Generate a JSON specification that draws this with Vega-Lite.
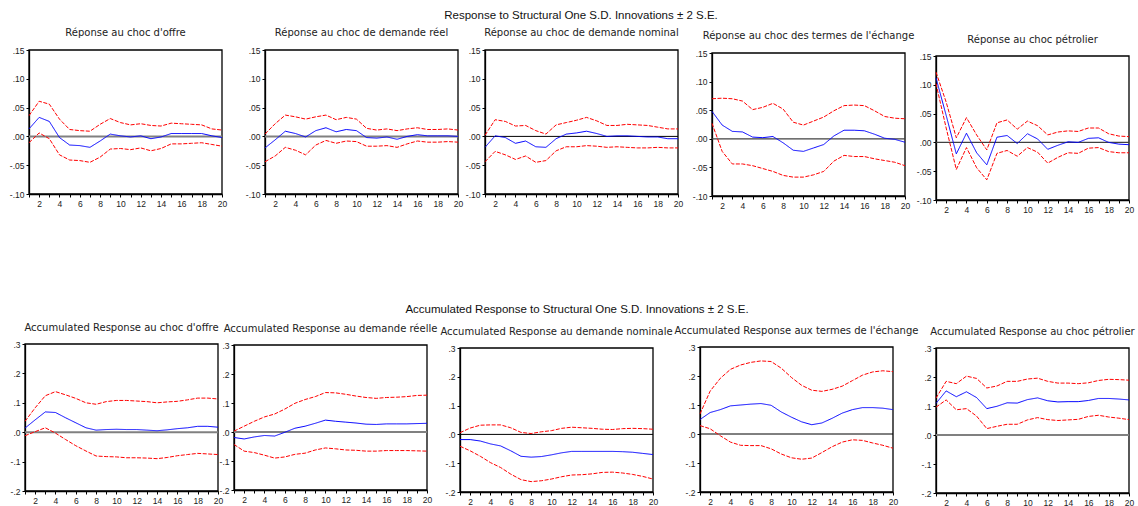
{
"$schema":"https://vega.github.io/schema/vega-lite/v6.json",
"autosize":{"type":"pad"},
"padding":{"left":4,"top":9,"right":4,"bottom":0},
"background":"#ffffff",
"datasets":{
"p1":[{"h":1,"m":0.013,"lo":-0.011,"hi":0.036},{"h":2,"m":0.033,"lo":0.006,"hi":0.061},{"h":3,"m":0.026,"lo":-0.004,"hi":0.056},{"h":4,"m":-0.002,"lo":-0.032,"hi":0.030},{"h":5,"m":-0.015,"lo":-0.041,"hi":0.012},{"h":6,"m":-0.016,"lo":-0.042,"hi":0.010},{"h":7,"m":-0.019,"lo":-0.045,"hi":0.009},{"h":8,"m":-0.008,"lo":-0.036,"hi":0.021},{"h":9,"m":0.004,"lo":-0.022,"hi":0.031},{"h":10,"m":0.001,"lo":-0.021,"hi":0.024},{"h":11,"m":-0.001,"lo":-0.023,"hi":0.020},{"h":12,"m":0.001,"lo":-0.020,"hi":0.022},{"h":13,"m":-0.004,"lo":-0.025,"hi":0.019},{"h":14,"m":-0.001,"lo":-0.021,"hi":0.018},{"h":15,"m":0.005,"lo":-0.013,"hi":0.023},{"h":16,"m":0.005,"lo":-0.013,"hi":0.022},{"h":17,"m":0.005,"lo":-0.012,"hi":0.021},{"h":18,"m":0.005,"lo":-0.011,"hi":0.020},{"h":19,"m":0.001,"lo":-0.014,"hi":0.013},{"h":20,"m":-0.002,"lo":-0.017,"hi":0.011}],
"p2":[{"h":1,"m":-0.020,"lo":-0.044,"hi":0.004},{"h":2,"m":-0.006,"lo":-0.034,"hi":0.022},{"h":3,"m":0.009,"lo":-0.019,"hi":0.037},{"h":4,"m":0.005,"lo":-0.024,"hi":0.034},{"h":5,"m":-0.001,"lo":-0.032,"hi":0.030},{"h":6,"m":0.010,"lo":-0.015,"hi":0.034},{"h":7,"m":0.015,"lo":-0.007,"hi":0.037},{"h":8,"m":0.008,"lo":-0.012,"hi":0.029},{"h":9,"m":0.012,"lo":-0.008,"hi":0.033},{"h":10,"m":0.010,"lo":-0.009,"hi":0.030},{"h":11,"m":-0.002,"lo":-0.017,"hi":0.014},{"h":12,"m":-0.003,"lo":-0.017,"hi":0.011},{"h":13,"m":-0.001,"lo":-0.016,"hi":0.013},{"h":14,"m":-0.005,"lo":-0.019,"hi":0.010},{"h":15,"m":0.000,"lo":-0.013,"hi":0.013},{"h":16,"m":0.003,"lo":-0.008,"hi":0.015},{"h":17,"m":0.001,"lo":-0.010,"hi":0.012},{"h":18,"m":0.001,"lo":-0.010,"hi":0.012},{"h":19,"m":0.001,"lo":-0.009,"hi":0.013},{"h":20,"m":0.000,"lo":-0.010,"hi":0.011}],
"p3":[{"h":1,"m":-0.019,"lo":-0.044,"hi":0.002},{"h":2,"m":0.001,"lo":-0.026,"hi":0.029},{"h":3,"m":-0.002,"lo":-0.032,"hi":0.026},{"h":4,"m":-0.012,"lo":-0.040,"hi":0.018},{"h":5,"m":-0.008,"lo":-0.034,"hi":0.019},{"h":6,"m":-0.018,"lo":-0.045,"hi":0.010},{"h":7,"m":-0.019,"lo":-0.042,"hi":0.004},{"h":8,"m":-0.004,"lo":-0.025,"hi":0.020},{"h":9,"m":0.004,"lo":-0.018,"hi":0.024},{"h":10,"m":0.006,"lo":-0.018,"hi":0.028},{"h":11,"m":0.009,"lo":-0.016,"hi":0.033},{"h":12,"m":0.005,"lo":-0.017,"hi":0.027},{"h":13,"m":0.000,"lo":-0.019,"hi":0.019},{"h":14,"m":0.001,"lo":-0.018,"hi":0.019},{"h":15,"m":0.001,"lo":-0.019,"hi":0.021},{"h":16,"m":0.000,"lo":-0.020,"hi":0.020},{"h":17,"m":-0.001,"lo":-0.020,"hi":0.019},{"h":18,"m":-0.001,"lo":-0.019,"hi":0.016},{"h":19,"m":-0.004,"lo":-0.020,"hi":0.013},{"h":20,"m":-0.004,"lo":-0.020,"hi":0.013}],
"p4":[{"h":1,"m":0.048,"lo":0.027,"hi":0.070},{"h":2,"m":0.024,"lo":-0.022,"hi":0.071},{"h":3,"m":0.013,"lo":-0.044,"hi":0.070},{"h":4,"m":0.012,"lo":-0.044,"hi":0.066},{"h":5,"m":0.003,"lo":-0.047,"hi":0.051},{"h":6,"m":0.002,"lo":-0.052,"hi":0.055},{"h":7,"m":0.004,"lo":-0.057,"hi":0.062},{"h":8,"m":-0.007,"lo":-0.064,"hi":0.052},{"h":9,"m":-0.020,"lo":-0.067,"hi":0.029},{"h":10,"m":-0.022,"lo":-0.067,"hi":0.024},{"h":11,"m":-0.016,"lo":-0.063,"hi":0.031},{"h":12,"m":-0.010,"lo":-0.057,"hi":0.038},{"h":13,"m":0.005,"lo":-0.039,"hi":0.049},{"h":14,"m":0.015,"lo":-0.029,"hi":0.058},{"h":15,"m":0.015,"lo":-0.031,"hi":0.059},{"h":16,"m":0.014,"lo":-0.031,"hi":0.058},{"h":17,"m":0.008,"lo":-0.035,"hi":0.049},{"h":18,"m":0.001,"lo":-0.038,"hi":0.039},{"h":19,"m":-0.001,"lo":-0.041,"hi":0.036},{"h":20,"m":-0.006,"lo":-0.047,"hi":0.035}],
"p5":[{"h":1,"m":0.112,"lo":0.102,"hi":0.122},{"h":2,"m":0.047,"lo":0.025,"hi":0.070},{"h":3,"m":-0.020,"lo":-0.047,"hi":0.008},{"h":4,"m":0.016,"lo":-0.009,"hi":0.043},{"h":5,"m":-0.018,"lo":-0.044,"hi":0.013},{"h":6,"m":-0.039,"lo":-0.065,"hi":-0.013},{"h":7,"m":0.009,"lo":-0.019,"hi":0.034},{"h":8,"m":0.012,"lo":-0.014,"hi":0.039},{"h":9,"m":-0.002,"lo":-0.024,"hi":0.023},{"h":10,"m":0.015,"lo":-0.009,"hi":0.037},{"h":11,"m":0.006,"lo":-0.017,"hi":0.029},{"h":12,"m":-0.012,"lo":-0.036,"hi":0.013},{"h":13,"m":-0.005,"lo":-0.026,"hi":0.018},{"h":14,"m":0.001,"lo":-0.018,"hi":0.020},{"h":15,"m":0.000,"lo":-0.019,"hi":0.019},{"h":16,"m":0.007,"lo":-0.010,"hi":0.025},{"h":17,"m":0.008,"lo":-0.009,"hi":0.025},{"h":18,"m":0.000,"lo":-0.016,"hi":0.015},{"h":19,"m":-0.003,"lo":-0.018,"hi":0.011},{"h":20,"m":-0.004,"lo":-0.018,"hi":0.010}],
"p6":[{"h":1,"m":0.014,"lo":-0.012,"hi":0.037},{"h":2,"m":0.042,"lo":0.002,"hi":0.083},{"h":3,"m":0.069,"lo":0.015,"hi":0.124},{"h":4,"m":0.067,"lo":-0.003,"hi":0.138},{"h":5,"m":0.049,"lo":-0.025,"hi":0.127},{"h":6,"m":0.032,"lo":-0.046,"hi":0.115},{"h":7,"m":0.015,"lo":-0.064,"hi":0.100},{"h":8,"m":0.007,"lo":-0.081,"hi":0.095},{"h":9,"m":0.009,"lo":-0.083,"hi":0.104},{"h":10,"m":0.010,"lo":-0.084,"hi":0.108},{"h":11,"m":0.009,"lo":-0.087,"hi":0.108},{"h":12,"m":0.009,"lo":-0.087,"hi":0.106},{"h":13,"m":0.007,"lo":-0.088,"hi":0.104},{"h":14,"m":0.005,"lo":-0.090,"hi":0.100},{"h":15,"m":0.008,"lo":-0.086,"hi":0.103},{"h":16,"m":0.012,"lo":-0.080,"hi":0.105},{"h":17,"m":0.015,"lo":-0.076,"hi":0.110},{"h":18,"m":0.020,"lo":-0.072,"hi":0.116},{"h":19,"m":0.020,"lo":-0.074,"hi":0.116},{"h":20,"m":0.017,"lo":-0.076,"hi":0.113}],
"p7":[{"h":1,"m":-0.019,"lo":-0.043,"hi":0.003},{"h":2,"m":-0.024,"lo":-0.066,"hi":0.020},{"h":3,"m":-0.017,"lo":-0.071,"hi":0.037},{"h":4,"m":-0.012,"lo":-0.080,"hi":0.052},{"h":5,"m":-0.014,"lo":-0.090,"hi":0.062},{"h":6,"m":-0.001,"lo":-0.086,"hi":0.079},{"h":7,"m":0.013,"lo":-0.077,"hi":0.099},{"h":8,"m":0.020,"lo":-0.073,"hi":0.112},{"h":9,"m":0.030,"lo":-0.062,"hi":0.122},{"h":10,"m":0.041,"lo":-0.055,"hi":0.136},{"h":11,"m":0.037,"lo":-0.058,"hi":0.135},{"h":12,"m":0.034,"lo":-0.062,"hi":0.130},{"h":13,"m":0.031,"lo":-0.063,"hi":0.124},{"h":14,"m":0.027,"lo":-0.066,"hi":0.119},{"h":15,"m":0.026,"lo":-0.066,"hi":0.116},{"h":16,"m":0.028,"lo":-0.064,"hi":0.119},{"h":17,"m":0.028,"lo":-0.064,"hi":0.120},{"h":18,"m":0.028,"lo":-0.064,"hi":0.122},{"h":19,"m":0.029,"lo":-0.065,"hi":0.126},{"h":20,"m":0.030,"lo":-0.066,"hi":0.127}],
"p8":[{"h":1,"m":-0.018,"lo":-0.041,"hi":0.006},{"h":2,"m":-0.018,"lo":-0.057,"hi":0.022},{"h":3,"m":-0.023,"lo":-0.076,"hi":0.032},{"h":4,"m":-0.033,"lo":-0.098,"hi":0.033},{"h":5,"m":-0.040,"lo":-0.115,"hi":0.033},{"h":6,"m":-0.057,"lo":-0.138,"hi":0.023},{"h":7,"m":-0.076,"lo":-0.157,"hi":0.007},{"h":8,"m":-0.079,"lo":-0.164,"hi":0.003},{"h":9,"m":-0.077,"lo":-0.161,"hi":0.009},{"h":10,"m":-0.071,"lo":-0.155,"hi":0.013},{"h":11,"m":-0.064,"lo":-0.147,"hi":0.021},{"h":12,"m":-0.059,"lo":-0.141,"hi":0.025},{"h":13,"m":-0.059,"lo":-0.140,"hi":0.023},{"h":14,"m":-0.059,"lo":-0.137,"hi":0.021},{"h":15,"m":-0.059,"lo":-0.132,"hi":0.018},{"h":16,"m":-0.059,"lo":-0.131,"hi":0.017},{"h":17,"m":-0.060,"lo":-0.134,"hi":0.020},{"h":18,"m":-0.062,"lo":-0.139,"hi":0.021},{"h":19,"m":-0.066,"lo":-0.146,"hi":0.020},{"h":20,"m":-0.070,"lo":-0.155,"hi":0.018}],
"p9":[{"h":1,"m":0.050,"lo":0.029,"hi":0.069},{"h":2,"m":0.074,"lo":0.018,"hi":0.148},{"h":3,"m":0.084,"lo":-0.006,"hi":0.192},{"h":4,"m":0.097,"lo":-0.028,"hi":0.223},{"h":5,"m":0.100,"lo":-0.039,"hi":0.238},{"h":6,"m":0.103,"lo":-0.040,"hi":0.247},{"h":7,"m":0.105,"lo":-0.040,"hi":0.252},{"h":8,"m":0.099,"lo":-0.051,"hi":0.250},{"h":9,"m":0.076,"lo":-0.069,"hi":0.227},{"h":10,"m":0.058,"lo":-0.082,"hi":0.195},{"h":11,"m":0.042,"lo":-0.087,"hi":0.168},{"h":12,"m":0.032,"lo":-0.083,"hi":0.151},{"h":13,"m":0.038,"lo":-0.064,"hi":0.147},{"h":14,"m":0.054,"lo":-0.044,"hi":0.154},{"h":15,"m":0.072,"lo":-0.028,"hi":0.165},{"h":16,"m":0.084,"lo":-0.020,"hi":0.184},{"h":17,"m":0.091,"lo":-0.022,"hi":0.203},{"h":18,"m":0.091,"lo":-0.031,"hi":0.214},{"h":19,"m":0.089,"lo":-0.039,"hi":0.218},{"h":20,"m":0.084,"lo":-0.049,"hi":0.215}],
"p10":[{"h":1,"m":0.109,"lo":0.096,"hi":0.127},{"h":2,"m":0.152,"lo":0.121,"hi":0.185},{"h":3,"m":0.132,"lo":0.087,"hi":0.177},{"h":4,"m":0.149,"lo":0.091,"hi":0.203},{"h":5,"m":0.129,"lo":0.065,"hi":0.195},{"h":6,"m":0.091,"lo":0.022,"hi":0.162},{"h":7,"m":0.099,"lo":0.030,"hi":0.169},{"h":8,"m":0.111,"lo":0.037,"hi":0.185},{"h":9,"m":0.110,"lo":0.037,"hi":0.185},{"h":10,"m":0.122,"lo":0.052,"hi":0.193},{"h":11,"m":0.128,"lo":0.060,"hi":0.196},{"h":12,"m":0.118,"lo":0.053,"hi":0.185},{"h":13,"m":0.114,"lo":0.050,"hi":0.179},{"h":14,"m":0.115,"lo":0.052,"hi":0.179},{"h":15,"m":0.115,"lo":0.054,"hi":0.177},{"h":16,"m":0.119,"lo":0.064,"hi":0.180},{"h":17,"m":0.126,"lo":0.068,"hi":0.188},{"h":18,"m":0.126,"lo":0.062,"hi":0.192},{"h":19,"m":0.124,"lo":0.058,"hi":0.191},{"h":20,"m":0.121,"lo":0.053,"hi":0.189}]
},
"bounds":"flush",
"spacing":294,
"vconcat":[
{"title":{"text":"Response to Structural One S.D. Innovations ± 2 S.E.","font":"Liberation Sans","fontSize":11.5,"color":"#111111","frame":"group","anchor":"middle","offset":7,"dx":577},
 "bounds":"flush","spacing":0,
 "hconcat":[
  {"width":218,"height":144,"data":{"name":"p1"},"title":{"text":"Réponse au choc d'offre","offset":8,"dx":12.5},
   "layer":[
    {"transform":[{"filter":"datum.h==1"}],"mark":{"type":"rect","filled":false,"stroke":"#000000","strokeWidth":1.3},"encoding":{"x":{"datum":1,"type":"quantitative","scale":{"domain":[1,20],"nice":false,"zero":false,"range":[25,218]},"axis":{"values":[1,2,3,4,5,6,7,8,9,10,11,12,13,14,15,16,17,18,19,20],"labelExpr":"datum.value % 2 == 0 ? datum.label : ''","labelFlush":false,"labelOverlap":false,"title":null}},"x2":{"datum":20},"y":{"datum":-0.1,"type":"quantitative","scale":{"domain":[-0.1,0.15],"nice":false,"zero":false,"range":[144,0]},"axis":{"values":[-0.1,-0.05,0,0.05,0.1,0.15],"labelExpr":"replace(replace(format(datum.value,'.2f'),'0.','.'),'\u2212','-')","title":null,"offset":-25}},"y2":{"datum":0.15}}},
    {"transform":[{"filter":"datum.h==1"}],"mark":{"type":"rule","color":"#808080","strokeWidth":2},"encoding":{"x":{"datum":1,"type":"quantitative","scale":{"domain":[1,20],"nice":false,"zero":false,"range":[25,218]},"axis":{"values":[1,2,3,4,5,6,7,8,9,10,11,12,13,14,15,16,17,18,19,20],"labelExpr":"datum.value % 2 == 0 ? datum.label : ''","labelFlush":false,"labelOverlap":false,"title":null}},"x2":{"datum":20},"y":{"datum":0,"type":"quantitative","scale":{"domain":[-0.1,0.15],"nice":false,"zero":false,"range":[144,0]},"axis":{"values":[-0.1,-0.05,0,0.05,0.1,0.15],"labelExpr":"replace(replace(format(datum.value,'.2f'),'0.','.'),'\u2212','-')","title":null,"offset":-25}}}},
    {"transform":[{"fold":["hi","lo","m"],"as":["s","v"]}],"mark":{"type":"line","strokeWidth":1},"encoding":{"x":{"field":"h","type":"quantitative","scale":{"domain":[1,20],"nice":false,"zero":false,"range":[25,218]},"axis":{"values":[1,2,3,4,5,6,7,8,9,10,11,12,13,14,15,16,17,18,19,20],"labelExpr":"datum.value % 2 == 0 ? datum.label : ''","labelFlush":false,"labelOverlap":false,"title":null}},"y":{"field":"v","type":"quantitative","scale":{"domain":[-0.1,0.15],"nice":false,"zero":false,"range":[144,0]},"axis":{"values":[-0.1,-0.05,0,0.05,0.1,0.15],"labelExpr":"replace(replace(format(datum.value,'.2f'),'0.','.'),'\u2212','-')","title":null,"offset":-25}},"color":{"field":"s","type":"nominal","scale":{"domain":["m","lo","hi"],"range":["#0000ff","#ff0000","#ff0000"]},"legend":null},"strokeDash":{"field":"s","type":"nominal","scale":{"domain":["m","lo","hi"],"range":[[1,0],[4,1.5],[4,1.5]]},"legend":null}}}
   ]},
  {"width":236,"height":144,"data":{"name":"p2"},"title":{"text":"Réponse au choc de demande réel","offset":8,"dx":21.5},
   "layer":[
    {"transform":[{"filter":"datum.h==1"}],"mark":{"type":"rect","filled":false,"stroke":"#000000","strokeWidth":1.3},"encoding":{"x":{"datum":1,"type":"quantitative","scale":{"domain":[1,20],"nice":false,"zero":false,"range":[43,236]},"axis":{"values":[1,2,3,4,5,6,7,8,9,10,11,12,13,14,15,16,17,18,19,20],"labelExpr":"datum.value % 2 == 0 ? datum.label : ''","labelFlush":false,"labelOverlap":false,"title":null}},"x2":{"datum":20},"y":{"datum":-0.1,"type":"quantitative","scale":{"domain":[-0.1,0.15],"nice":false,"zero":false,"range":[144,0]},"axis":{"values":[-0.1,-0.05,0,0.05,0.1,0.15],"labelExpr":"replace(replace(format(datum.value,'.2f'),'0.','.'),'\u2212','-')","title":null,"offset":-43}},"y2":{"datum":0.15}}},
    {"transform":[{"filter":"datum.h==1"}],"mark":{"type":"rule","color":"#808080","strokeWidth":2},"encoding":{"x":{"datum":1,"type":"quantitative","scale":{"domain":[1,20],"nice":false,"zero":false,"range":[43,236]},"axis":{"values":[1,2,3,4,5,6,7,8,9,10,11,12,13,14,15,16,17,18,19,20],"labelExpr":"datum.value % 2 == 0 ? datum.label : ''","labelFlush":false,"labelOverlap":false,"title":null}},"x2":{"datum":20},"y":{"datum":0,"type":"quantitative","scale":{"domain":[-0.1,0.15],"nice":false,"zero":false,"range":[144,0]},"axis":{"values":[-0.1,-0.05,0,0.05,0.1,0.15],"labelExpr":"replace(replace(format(datum.value,'.2f'),'0.','.'),'\u2212','-')","title":null,"offset":-43}}}},
    {"transform":[{"fold":["hi","lo","m"],"as":["s","v"]}],"mark":{"type":"line","strokeWidth":1},"encoding":{"x":{"field":"h","type":"quantitative","scale":{"domain":[1,20],"nice":false,"zero":false,"range":[43,236]},"axis":{"values":[1,2,3,4,5,6,7,8,9,10,11,12,13,14,15,16,17,18,19,20],"labelExpr":"datum.value % 2 == 0 ? datum.label : ''","labelFlush":false,"labelOverlap":false,"title":null}},"y":{"field":"v","type":"quantitative","scale":{"domain":[-0.1,0.15],"nice":false,"zero":false,"range":[144,0]},"axis":{"values":[-0.1,-0.05,0,0.05,0.1,0.15],"labelExpr":"replace(replace(format(datum.value,'.2f'),'0.','.'),'\u2212','-')","title":null,"offset":-43}},"color":{"field":"s","type":"nominal","scale":{"domain":["m","lo","hi"],"range":["#0000ff","#ff0000","#ff0000"]},"legend":null},"strokeDash":{"field":"s","type":"nominal","scale":{"domain":["m","lo","hi"],"range":[[1,0],[4,1.5],[4,1.5]]},"legend":null}}}
   ]},
  {"width":220,"height":144,"data":{"name":"p3"},"title":{"text":"Réponse au choc de demande nominal","offset":8,"dx":13.5},
   "layer":[
    {"transform":[{"filter":"datum.h==1"}],"mark":{"type":"rect","filled":false,"stroke":"#000000","strokeWidth":1.3},"encoding":{"x":{"datum":1,"type":"quantitative","scale":{"domain":[1,20],"nice":false,"zero":false,"range":[27,220]},"axis":{"values":[1,2,3,4,5,6,7,8,9,10,11,12,13,14,15,16,17,18,19,20],"labelExpr":"datum.value % 2 == 0 ? datum.label : ''","labelFlush":false,"labelOverlap":false,"title":null}},"x2":{"datum":20},"y":{"datum":-0.1,"type":"quantitative","scale":{"domain":[-0.1,0.15],"nice":false,"zero":false,"range":[144,0]},"axis":{"values":[-0.1,-0.05,0,0.05,0.1,0.15],"labelExpr":"replace(replace(format(datum.value,'.2f'),'0.','.'),'\u2212','-')","title":null,"offset":-27}},"y2":{"datum":0.15}}},
    {"transform":[{"filter":"datum.h==1"}],"mark":{"type":"rule","color":"#000000","strokeWidth":1},"encoding":{"x":{"datum":1,"type":"quantitative","scale":{"domain":[1,20],"nice":false,"zero":false,"range":[27,220]},"axis":{"values":[1,2,3,4,5,6,7,8,9,10,11,12,13,14,15,16,17,18,19,20],"labelExpr":"datum.value % 2 == 0 ? datum.label : ''","labelFlush":false,"labelOverlap":false,"title":null}},"x2":{"datum":20},"y":{"datum":0,"type":"quantitative","scale":{"domain":[-0.1,0.15],"nice":false,"zero":false,"range":[144,0]},"axis":{"values":[-0.1,-0.05,0,0.05,0.1,0.15],"labelExpr":"replace(replace(format(datum.value,'.2f'),'0.','.'),'\u2212','-')","title":null,"offset":-27}}}},
    {"transform":[{"fold":["hi","lo","m"],"as":["s","v"]}],"mark":{"type":"line","strokeWidth":1},"encoding":{"x":{"field":"h","type":"quantitative","scale":{"domain":[1,20],"nice":false,"zero":false,"range":[27,220]},"axis":{"values":[1,2,3,4,5,6,7,8,9,10,11,12,13,14,15,16,17,18,19,20],"labelExpr":"datum.value % 2 == 0 ? datum.label : ''","labelFlush":false,"labelOverlap":false,"title":null}},"y":{"field":"v","type":"quantitative","scale":{"domain":[-0.1,0.15],"nice":false,"zero":false,"range":[144,0]},"axis":{"values":[-0.1,-0.05,0,0.05,0.1,0.15],"labelExpr":"replace(replace(format(datum.value,'.2f'),'0.','.'),'\u2212','-')","title":null,"offset":-27}},"color":{"field":"s","type":"nominal","scale":{"domain":["m","lo","hi"],"range":["#0000ff","#ff0000","#ff0000"]},"legend":null},"strokeDash":{"field":"s","type":"nominal","scale":{"domain":["m","lo","hi"],"range":[[1,0],[4,1.5],[4,1.5]]},"legend":null}}}
   ]},
  {"width":227,"height":146,"data":{"name":"p4"},"title":{"text":"Réponse au choc des termes de l'échange","offset":8,"dx":17},
   "layer":[
    {"transform":[{"filter":"datum.h==1"}],"mark":{"type":"rect","filled":false,"stroke":"#000000","strokeWidth":1.3},"encoding":{"x":{"datum":1,"type":"quantitative","scale":{"domain":[1,20],"nice":false,"zero":false,"range":[34,227]},"axis":{"values":[1,2,3,4,5,6,7,8,9,10,11,12,13,14,15,16,17,18,19,20],"labelExpr":"datum.value % 2 == 0 ? datum.label : ''","labelFlush":false,"labelOverlap":false,"title":null}},"x2":{"datum":20},"y":{"datum":-0.1,"type":"quantitative","scale":{"domain":[-0.1,0.15],"nice":false,"zero":false,"range":[146,3]},"axis":{"values":[-0.1,-0.05,0,0.05,0.1,0.15],"labelExpr":"replace(replace(format(datum.value,'.2f'),'0.','.'),'\u2212','-')","title":null,"offset":-34}},"y2":{"datum":0.15}}},
    {"transform":[{"filter":"datum.h==1"}],"mark":{"type":"rule","color":"#404040","strokeWidth":1.2},"encoding":{"x":{"datum":1,"type":"quantitative","scale":{"domain":[1,20],"nice":false,"zero":false,"range":[34,227]},"axis":{"values":[1,2,3,4,5,6,7,8,9,10,11,12,13,14,15,16,17,18,19,20],"labelExpr":"datum.value % 2 == 0 ? datum.label : ''","labelFlush":false,"labelOverlap":false,"title":null}},"x2":{"datum":20},"y":{"datum":0,"type":"quantitative","scale":{"domain":[-0.1,0.15],"nice":false,"zero":false,"range":[146,3]},"axis":{"values":[-0.1,-0.05,0,0.05,0.1,0.15],"labelExpr":"replace(replace(format(datum.value,'.2f'),'0.','.'),'\u2212','-')","title":null,"offset":-34}}}},
    {"transform":[{"fold":["hi","lo","m"],"as":["s","v"]}],"mark":{"type":"line","strokeWidth":1},"encoding":{"x":{"field":"h","type":"quantitative","scale":{"domain":[1,20],"nice":false,"zero":false,"range":[34,227]},"axis":{"values":[1,2,3,4,5,6,7,8,9,10,11,12,13,14,15,16,17,18,19,20],"labelExpr":"datum.value % 2 == 0 ? datum.label : ''","labelFlush":false,"labelOverlap":false,"title":null}},"y":{"field":"v","type":"quantitative","scale":{"domain":[-0.1,0.15],"nice":false,"zero":false,"range":[146,3]},"axis":{"values":[-0.1,-0.05,0,0.05,0.1,0.15],"labelExpr":"replace(replace(format(datum.value,'.2f'),'0.','.'),'\u2212','-')","title":null,"offset":-34}},"color":{"field":"s","type":"nominal","scale":{"domain":["m","lo","hi"],"range":["#0000ff","#ff0000","#ff0000"]},"legend":null},"strokeDash":{"field":"s","type":"nominal","scale":{"domain":["m","lo","hi"],"range":[[1,0],[4,1.5],[4,1.5]]},"legend":null}}}
   ]},
  {"width":224,"height":150,"data":{"name":"p5"},"title":{"text":"Réponse au choc pétrolier","offset":5.5,"dx":15.5},
   "layer":[
    {"transform":[{"filter":"datum.h==1"}],"mark":{"type":"rect","filled":false,"stroke":"#000000","strokeWidth":1.3},"encoding":{"x":{"datum":1,"type":"quantitative","scale":{"domain":[1,20],"nice":false,"zero":false,"range":[31,224]},"axis":{"values":[1,2,3,4,5,6,7,8,9,10,11,12,13,14,15,16,17,18,19,20],"labelExpr":"datum.value % 2 == 0 ? datum.label : ''","labelFlush":false,"labelOverlap":false,"title":null}},"x2":{"datum":20},"y":{"datum":-0.1,"type":"quantitative","scale":{"domain":[-0.1,0.15],"nice":false,"zero":false,"range":[150,6]},"axis":{"values":[-0.1,-0.05,0,0.05,0.1,0.15],"labelExpr":"replace(replace(format(datum.value,'.2f'),'0.','.'),'\u2212','-')","title":null,"offset":-31}},"y2":{"datum":0.15}}},
    {"transform":[{"filter":"datum.h==1"}],"mark":{"type":"rule","color":"#404040","strokeWidth":1.2},"encoding":{"x":{"datum":1,"type":"quantitative","scale":{"domain":[1,20],"nice":false,"zero":false,"range":[31,224]},"axis":{"values":[1,2,3,4,5,6,7,8,9,10,11,12,13,14,15,16,17,18,19,20],"labelExpr":"datum.value % 2 == 0 ? datum.label : ''","labelFlush":false,"labelOverlap":false,"title":null}},"x2":{"datum":20},"y":{"datum":0,"type":"quantitative","scale":{"domain":[-0.1,0.15],"nice":false,"zero":false,"range":[150,6]},"axis":{"values":[-0.1,-0.05,0,0.05,0.1,0.15],"labelExpr":"replace(replace(format(datum.value,'.2f'),'0.','.'),'\u2212','-')","title":null,"offset":-31}}}},
    {"transform":[{"fold":["hi","lo","m"],"as":["s","v"]}],"mark":{"type":"line","strokeWidth":1},"encoding":{"x":{"field":"h","type":"quantitative","scale":{"domain":[1,20],"nice":false,"zero":false,"range":[31,224]},"axis":{"values":[1,2,3,4,5,6,7,8,9,10,11,12,13,14,15,16,17,18,19,20],"labelExpr":"datum.value % 2 == 0 ? datum.label : ''","labelFlush":false,"labelOverlap":false,"title":null}},"y":{"field":"v","type":"quantitative","scale":{"domain":[-0.1,0.15],"nice":false,"zero":false,"range":[150,6]},"axis":{"values":[-0.1,-0.05,0,0.05,0.1,0.15],"labelExpr":"replace(replace(format(datum.value,'.2f'),'0.','.'),'\u2212','-')","title":null,"offset":-31}},"color":{"field":"s","type":"nominal","scale":{"domain":["m","lo","hi"],"range":["#0000ff","#ff0000","#ff0000"]},"legend":null},"strokeDash":{"field":"s","type":"nominal","scale":{"domain":["m","lo","hi"],"range":[[1,0],[4,1.5],[4,1.5]]},"legend":null}}}
   ]}
 ]},
{"title":{"text":"Accumulated Response to Structural One S.D. Innovations ± 2 S.E.","font":"Liberation Sans","fontSize":11.5,"color":"#111111","frame":"group","anchor":"middle","offset":8,"dx":573},
 "bounds":"flush","spacing":0,
 "hconcat":[
  {"width":214,"height":147,"data":{"name":"p6"},"title":{"text":"Accumulated Response au choc d'offre","offset":7,"dx":10.5},
   "layer":[
    {"transform":[{"filter":"datum.h==1"}],"mark":{"type":"rect","filled":false,"stroke":"#000000","strokeWidth":1.3},"encoding":{"x":{"datum":1,"type":"quantitative","scale":{"domain":[1,20],"nice":false,"zero":false,"range":[21,214]},"axis":{"values":[1,2,3,4,5,6,7,8,9,10,11,12,13,14,15,16,17,18,19,20],"labelExpr":"datum.value % 2 == 0 ? datum.label : ''","labelFlush":false,"labelOverlap":false,"title":null}},"x2":{"datum":20},"y":{"datum":-0.2,"type":"quantitative","scale":{"domain":[-0.2,0.3],"nice":false,"zero":false,"range":[147,0]},"axis":{"values":[-0.2,-0.1,0,0.1,0.2,0.3],"labelExpr":"replace(replace(format(datum.value,'.1f'),'0.','.'),'\u2212','-')","title":null,"offset":-21}},"y2":{"datum":0.3}}},
    {"transform":[{"filter":"datum.h==1"}],"mark":{"type":"rule","color":"#808080","strokeWidth":2},"encoding":{"x":{"datum":1,"type":"quantitative","scale":{"domain":[1,20],"nice":false,"zero":false,"range":[21,214]},"axis":{"values":[1,2,3,4,5,6,7,8,9,10,11,12,13,14,15,16,17,18,19,20],"labelExpr":"datum.value % 2 == 0 ? datum.label : ''","labelFlush":false,"labelOverlap":false,"title":null}},"x2":{"datum":20},"y":{"datum":0,"type":"quantitative","scale":{"domain":[-0.2,0.3],"nice":false,"zero":false,"range":[147,0]},"axis":{"values":[-0.2,-0.1,0,0.1,0.2,0.3],"labelExpr":"replace(replace(format(datum.value,'.1f'),'0.','.'),'\u2212','-')","title":null,"offset":-21}}}},
    {"transform":[{"fold":["hi","lo","m"],"as":["s","v"]}],"mark":{"type":"line","strokeWidth":1},"encoding":{"x":{"field":"h","type":"quantitative","scale":{"domain":[1,20],"nice":false,"zero":false,"range":[21,214]},"axis":{"values":[1,2,3,4,5,6,7,8,9,10,11,12,13,14,15,16,17,18,19,20],"labelExpr":"datum.value % 2 == 0 ? datum.label : ''","labelFlush":false,"labelOverlap":false,"title":null}},"y":{"field":"v","type":"quantitative","scale":{"domain":[-0.2,0.3],"nice":false,"zero":false,"range":[147,0]},"axis":{"values":[-0.2,-0.1,0,0.1,0.2,0.3],"labelExpr":"replace(replace(format(datum.value,'.1f'),'0.','.'),'\u2212','-')","title":null,"offset":-21}},"color":{"field":"s","type":"nominal","scale":{"domain":["m","lo","hi"],"range":["#0000ff","#ff0000","#ff0000"]},"legend":null},"strokeDash":{"field":"s","type":"nominal","scale":{"domain":["m","lo","hi"],"range":[[1,0],[4,1.5],[4,1.5]]},"legend":null}}}
   ]},
  {"width":209,"height":146,"data":{"name":"p7"},"title":{"text":"Accumulated Response au demande réelle","offset":7,"dx":8},
   "layer":[
    {"transform":[{"filter":"datum.h==1"}],"mark":{"type":"rect","filled":false,"stroke":"#000000","strokeWidth":1.3},"encoding":{"x":{"datum":1,"type":"quantitative","scale":{"domain":[1,20],"nice":false,"zero":false,"range":[16,209]},"axis":{"values":[1,2,3,4,5,6,7,8,9,10,11,12,13,14,15,16,17,18,19,20],"labelExpr":"datum.value % 2 == 0 ? datum.label : ''","labelFlush":false,"labelOverlap":false,"title":null}},"x2":{"datum":20},"y":{"datum":-0.2,"type":"quantitative","scale":{"domain":[-0.2,0.3],"nice":false,"zero":false,"range":[146,1]},"axis":{"values":[-0.2,-0.1,0,0.1,0.2,0.3],"labelExpr":"replace(replace(format(datum.value,'.1f'),'0.','.'),'\u2212','-')","title":null,"offset":-16}},"y2":{"datum":0.3}}},
    {"transform":[{"filter":"datum.h==1"}],"mark":{"type":"rule","color":"#808080","strokeWidth":2},"encoding":{"x":{"datum":1,"type":"quantitative","scale":{"domain":[1,20],"nice":false,"zero":false,"range":[16,209]},"axis":{"values":[1,2,3,4,5,6,7,8,9,10,11,12,13,14,15,16,17,18,19,20],"labelExpr":"datum.value % 2 == 0 ? datum.label : ''","labelFlush":false,"labelOverlap":false,"title":null}},"x2":{"datum":20},"y":{"datum":0,"type":"quantitative","scale":{"domain":[-0.2,0.3],"nice":false,"zero":false,"range":[146,1]},"axis":{"values":[-0.2,-0.1,0,0.1,0.2,0.3],"labelExpr":"replace(replace(format(datum.value,'.1f'),'0.','.'),'\u2212','-')","title":null,"offset":-16}}}},
    {"transform":[{"fold":["hi","lo","m"],"as":["s","v"]}],"mark":{"type":"line","strokeWidth":1},"encoding":{"x":{"field":"h","type":"quantitative","scale":{"domain":[1,20],"nice":false,"zero":false,"range":[16,209]},"axis":{"values":[1,2,3,4,5,6,7,8,9,10,11,12,13,14,15,16,17,18,19,20],"labelExpr":"datum.value % 2 == 0 ? datum.label : ''","labelFlush":false,"labelOverlap":false,"title":null}},"y":{"field":"v","type":"quantitative","scale":{"domain":[-0.2,0.3],"nice":false,"zero":false,"range":[146,1]},"axis":{"values":[-0.2,-0.1,0,0.1,0.2,0.3],"labelExpr":"replace(replace(format(datum.value,'.1f'),'0.','.'),'\u2212','-')","title":null,"offset":-16}},"color":{"field":"s","type":"nominal","scale":{"domain":["m","lo","hi"],"range":["#0000ff","#ff0000","#ff0000"]},"legend":null},"strokeDash":{"field":"s","type":"nominal","scale":{"domain":["m","lo","hi"],"range":[[1,0],[4,1.5],[4,1.5]]},"legend":null}}}
   ]},
  {"width":226,"height":148,"data":{"name":"p8"},"title":{"text":"Accumulated Response au demande nominale","offset":7,"dx":16.5},
   "layer":[
    {"transform":[{"filter":"datum.h==1"}],"mark":{"type":"rect","filled":false,"stroke":"#000000","strokeWidth":1.3},"encoding":{"x":{"datum":1,"type":"quantitative","scale":{"domain":[1,20],"nice":false,"zero":false,"range":[33,226]},"axis":{"values":[1,2,3,4,5,6,7,8,9,10,11,12,13,14,15,16,17,18,19,20],"labelExpr":"datum.value % 2 == 0 ? datum.label : ''","labelFlush":false,"labelOverlap":false,"title":null}},"x2":{"datum":20},"y":{"datum":-0.2,"type":"quantitative","scale":{"domain":[-0.2,0.3],"nice":false,"zero":false,"range":[148,4]},"axis":{"values":[-0.2,-0.1,0,0.1,0.2,0.3],"labelExpr":"replace(replace(format(datum.value,'.1f'),'0.','.'),'\u2212','-')","title":null,"offset":-33}},"y2":{"datum":0.3}}},
    {"transform":[{"filter":"datum.h==1"}],"mark":{"type":"rule","color":"#000000","strokeWidth":1},"encoding":{"x":{"datum":1,"type":"quantitative","scale":{"domain":[1,20],"nice":false,"zero":false,"range":[33,226]},"axis":{"values":[1,2,3,4,5,6,7,8,9,10,11,12,13,14,15,16,17,18,19,20],"labelExpr":"datum.value % 2 == 0 ? datum.label : ''","labelFlush":false,"labelOverlap":false,"title":null}},"x2":{"datum":20},"y":{"datum":0,"type":"quantitative","scale":{"domain":[-0.2,0.3],"nice":false,"zero":false,"range":[148,4]},"axis":{"values":[-0.2,-0.1,0,0.1,0.2,0.3],"labelExpr":"replace(replace(format(datum.value,'.1f'),'0.','.'),'\u2212','-')","title":null,"offset":-33}}}},
    {"transform":[{"fold":["hi","lo","m"],"as":["s","v"]}],"mark":{"type":"line","strokeWidth":1},"encoding":{"x":{"field":"h","type":"quantitative","scale":{"domain":[1,20],"nice":false,"zero":false,"range":[33,226]},"axis":{"values":[1,2,3,4,5,6,7,8,9,10,11,12,13,14,15,16,17,18,19,20],"labelExpr":"datum.value % 2 == 0 ? datum.label : ''","labelFlush":false,"labelOverlap":false,"title":null}},"y":{"field":"v","type":"quantitative","scale":{"domain":[-0.2,0.3],"nice":false,"zero":false,"range":[148,4]},"axis":{"values":[-0.2,-0.1,0,0.1,0.2,0.3],"labelExpr":"replace(replace(format(datum.value,'.1f'),'0.','.'),'\u2212','-')","title":null,"offset":-33}},"color":{"field":"s","type":"nominal","scale":{"domain":["m","lo","hi"],"range":["#0000ff","#ff0000","#ff0000"]},"legend":null},"strokeDash":{"field":"s","type":"nominal","scale":{"domain":["m","lo","hi"],"range":[[1,0],[4,1.5],[4,1.5]]},"legend":null}}}
   ]},
  {"width":240,"height":148,"data":{"name":"p9"},"title":{"text":"Accumulated Response aux termes de l'échange","offset":7,"dx":23.5},
   "layer":[
    {"transform":[{"filter":"datum.h==1"}],"mark":{"type":"rect","filled":false,"stroke":"#000000","strokeWidth":1.3},"encoding":{"x":{"datum":1,"type":"quantitative","scale":{"domain":[1,20],"nice":false,"zero":false,"range":[47,240]},"axis":{"values":[1,2,3,4,5,6,7,8,9,10,11,12,13,14,15,16,17,18,19,20],"labelExpr":"datum.value % 2 == 0 ? datum.label : ''","labelFlush":false,"labelOverlap":false,"title":null}},"x2":{"datum":20},"y":{"datum":-0.2,"type":"quantitative","scale":{"domain":[-0.2,0.3],"nice":false,"zero":false,"range":[148,3]},"axis":{"values":[-0.2,-0.1,0,0.1,0.2,0.3],"labelExpr":"replace(replace(format(datum.value,'.1f'),'0.','.'),'\u2212','-')","title":null,"offset":-47}},"y2":{"datum":0.3}}},
    {"transform":[{"filter":"datum.h==1"}],"mark":{"type":"rule","color":"#000000","strokeWidth":1},"encoding":{"x":{"datum":1,"type":"quantitative","scale":{"domain":[1,20],"nice":false,"zero":false,"range":[47,240]},"axis":{"values":[1,2,3,4,5,6,7,8,9,10,11,12,13,14,15,16,17,18,19,20],"labelExpr":"datum.value % 2 == 0 ? datum.label : ''","labelFlush":false,"labelOverlap":false,"title":null}},"x2":{"datum":20},"y":{"datum":0,"type":"quantitative","scale":{"domain":[-0.2,0.3],"nice":false,"zero":false,"range":[148,3]},"axis":{"values":[-0.2,-0.1,0,0.1,0.2,0.3],"labelExpr":"replace(replace(format(datum.value,'.1f'),'0.','.'),'\u2212','-')","title":null,"offset":-47}}}},
    {"transform":[{"fold":["hi","lo","m"],"as":["s","v"]}],"mark":{"type":"line","strokeWidth":1},"encoding":{"x":{"field":"h","type":"quantitative","scale":{"domain":[1,20],"nice":false,"zero":false,"range":[47,240]},"axis":{"values":[1,2,3,4,5,6,7,8,9,10,11,12,13,14,15,16,17,18,19,20],"labelExpr":"datum.value % 2 == 0 ? datum.label : ''","labelFlush":false,"labelOverlap":false,"title":null}},"y":{"field":"v","type":"quantitative","scale":{"domain":[-0.2,0.3],"nice":false,"zero":false,"range":[148,3]},"axis":{"values":[-0.2,-0.1,0,0.1,0.2,0.3],"labelExpr":"replace(replace(format(datum.value,'.1f'),'0.','.'),'\u2212','-')","title":null,"offset":-47}},"color":{"field":"s","type":"nominal","scale":{"domain":["m","lo","hi"],"range":["#0000ff","#ff0000","#ff0000"]},"legend":null},"strokeDash":{"field":"s","type":"nominal","scale":{"domain":["m","lo","hi"],"range":[[1,0],[4,1.5],[4,1.5]]},"legend":null}}}
   ]},
  {"width":236,"height":149,"data":{"name":"p10"},"title":{"text":"Accumulated Response au choc pétrolier","offset":7,"dx":21.5},
   "layer":[
    {"transform":[{"filter":"datum.h==1"}],"mark":{"type":"rect","filled":false,"stroke":"#000000","strokeWidth":1.3},"encoding":{"x":{"datum":1,"type":"quantitative","scale":{"domain":[1,20],"nice":false,"zero":false,"range":[43,236]},"axis":{"values":[1,2,3,4,5,6,7,8,9,10,11,12,13,14,15,16,17,18,19,20],"labelExpr":"datum.value % 2 == 0 ? datum.label : ''","labelFlush":false,"labelOverlap":false,"title":null}},"x2":{"datum":20},"y":{"datum":-0.2,"type":"quantitative","scale":{"domain":[-0.2,0.3],"nice":false,"zero":false,"range":[149,4]},"axis":{"values":[-0.2,-0.1,0,0.1,0.2,0.3],"labelExpr":"replace(replace(format(datum.value,'.1f'),'0.','.'),'\u2212','-')","title":null,"offset":-43}},"y2":{"datum":0.3}}},
    {"transform":[{"filter":"datum.h==1"}],"mark":{"type":"rule","color":"#808080","strokeWidth":2},"encoding":{"x":{"datum":1,"type":"quantitative","scale":{"domain":[1,20],"nice":false,"zero":false,"range":[43,236]},"axis":{"values":[1,2,3,4,5,6,7,8,9,10,11,12,13,14,15,16,17,18,19,20],"labelExpr":"datum.value % 2 == 0 ? datum.label : ''","labelFlush":false,"labelOverlap":false,"title":null}},"x2":{"datum":20},"y":{"datum":0,"type":"quantitative","scale":{"domain":[-0.2,0.3],"nice":false,"zero":false,"range":[149,4]},"axis":{"values":[-0.2,-0.1,0,0.1,0.2,0.3],"labelExpr":"replace(replace(format(datum.value,'.1f'),'0.','.'),'\u2212','-')","title":null,"offset":-43}}}},
    {"transform":[{"fold":["hi","lo","m"],"as":["s","v"]}],"mark":{"type":"line","strokeWidth":1},"encoding":{"x":{"field":"h","type":"quantitative","scale":{"domain":[1,20],"nice":false,"zero":false,"range":[43,236]},"axis":{"values":[1,2,3,4,5,6,7,8,9,10,11,12,13,14,15,16,17,18,19,20],"labelExpr":"datum.value % 2 == 0 ? datum.label : ''","labelFlush":false,"labelOverlap":false,"title":null}},"y":{"field":"v","type":"quantitative","scale":{"domain":[-0.2,0.3],"nice":false,"zero":false,"range":[149,4]},"axis":{"values":[-0.2,-0.1,0,0.1,0.2,0.3],"labelExpr":"replace(replace(format(datum.value,'.1f'),'0.','.'),'\u2212','-')","title":null,"offset":-43}},"color":{"field":"s","type":"nominal","scale":{"domain":["m","lo","hi"],"range":["#0000ff","#ff0000","#ff0000"]},"legend":null},"strokeDash":{"field":"s","type":"nominal","scale":{"domain":["m","lo","hi"],"range":[[1,0],[4,1.5],[4,1.5]]},"legend":null}}}
   ]}
 ]}
],
"config":{
 "font":"Liberation Sans",
 "view":{"stroke":null},
 "axis":{"grid":false,"domainColor":"#000000","domainWidth":1.3,"tickColor":"#000000","tickSize":3,"tickWidth":1,"labelFont":"Liberation Sans","labelFontSize":8.5,"labelColor":"#222222","labelPadding":2},
 "title":{"font":"DejaVu Sans","fontSize":10,"fontWeight":"normal","color":"#222222","anchor":"middle","frame":"group"}
}
}
